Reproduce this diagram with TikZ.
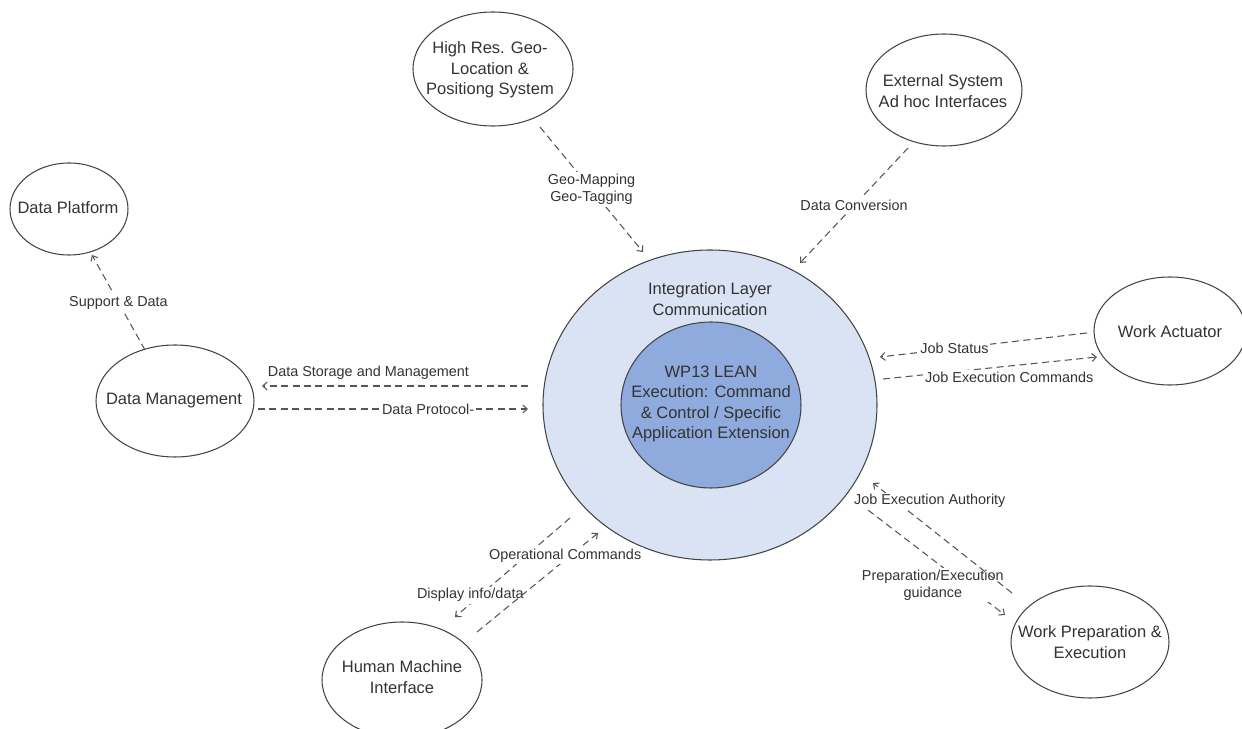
\documentclass[tikz,border=0pt]{standalone}
\usepackage{fontspec}
\setmainfont{Liberation Sans}
\usetikzlibrary{shapes.geometric,arrows.meta,calc}
\definecolor{ink}{HTML}{333333}
\definecolor{edgegray}{HTML}{555555}
\definecolor{rimgray}{HTML}{444444}
\definecolor{ringfill}{HTML}{DAE3F3}
\definecolor{corefill}{HTML}{8FAADC}

\begin{document}
\begin{tikzpicture}[x=0.02cm,y=-0.02cm,
  sz/.style 2 args={minimum width={#1*0.02cm}, minimum height={#2*0.02cm}},
  blob/.style={ellipse, draw=rimgray, line width=0.6pt, fill=white, inner sep=0pt},
  inscr/.style={text=ink, align=center, inner sep=0pt,
    font=\fontsize{9.4pt}{11.6pt}\selectfont},
  flow/.style={draw=edgegray, line width=0.6pt, dash pattern=on 4pt off 2.5pt,
    -{Straight Barb[length=2.5pt,width=4.5pt]}},
  linktext/.style={text=ink, align=center, fill=white, inner sep=1pt,
    font=\fontsize{8.2pt}{9.8pt}\selectfont},
]
\useasboundingbox (0,0) rectangle (1242,729);

% central integration layer with the command & control core
\node[ellipse, draw=rimgray, line width=0.6pt, fill=ringfill, sz={334}{310}] (outer) at (710,405) {};
\node[ellipse, draw=rimgray, line width=0.6pt, fill=corefill, sz={180}{166}] (inner) at (711,405) {};
\node[inscr] (outert) at (710,299) {Integration Layer\\Communication};
\node[inscr] (innert) at (711,404) {WP13 LEAN\\Execution: Command\\\& Control / Specific\\Application Extension};

% surrounding systems
\node[blob, sz={118}{92}]  (dp)  at (69,209)   {};
\node[inscr] (dpt) at (68,208) {Data Platform};
\node[blob, sz={158}{112}] (dm)  at (175,401)  {};
\node[inscr] (dmt) at (174,401) {Data Management};
\node[blob, sz={160}{114}] (geo) at (493,69)   {};
\node[inscr] (geot) at (490,70) {High Res. Geo-\\Location \&\\Positiong System};
\node[blob, sz={156}{112}] (ext) at (944,90)   {};
\node[inscr] (extt) at (943,91) {External System\\Ad hoc Interfaces};
\node[blob, sz={152}{108}] (wa)  at (1170,331) {};
\node[inscr] (wat) at (1170,332) {Work Actuator};
\node[blob, sz={158}{112}] (wp)  at (1090,642) {};
\node[inscr] (wpt) at (1090,642) {Work Preparation \&\\Execution};
\node[blob, sz={160}{116}] (hmi) at (402,680)  {};
\node[inscr] (hmit) at (402,677) {Human Machine\\Interface};

% information flows
\draw[flow] ($(dm)+(-30,-51)$) -- node[linktext] (l1) {Support \& Data} ($(dp)+(23,46)$);
\draw[flow] ($(outer)+(-182,-19)$) -- node[linktext, pos=0.6, yshift=0.26cm] (l2) {Data Storage and Management} ($(dm)+(87,-15)$);
\draw[flow] ($(dm)+(83,8)$) -- node[linktext, pos=0.63] (l3) {Data Protocol-} ($(outer)+(-182,4)$);
\draw[flow] ($(geo)+(47,58)$) -- node[linktext] (l4) {Geo-Mapping\\Geo-Tagging} ($(outer)+(-67,-153)$);
\draw[flow] ($(ext)+(-36,58)$) -- node[linktext] (l5) {Data Conversion} ($(outer)+(90,-142)$);
\draw[flow] ($(wa)+(-83,2)$) -- node[linktext, pos=0.64] (l6) {Job Status} ($(outer)+(170,-48)$);
\draw[flow] ($(outer)+(173,-26)$) -- node[linktext, pos=0.59, yshift=-0.22cm] (l7) {Job Execution Commands} ($(wa)+(-73,26)$);
\draw[flow] ($(outer)+(158,105)$) -- node[linktext, pos=0.714, xshift=-0.66cm] (l8) {Preparation/Execution\\guidance} ($(wp)+(-85,-27)$);
\draw[flow] ($(wp)+(-78,-49)$) -- node[linktext, pos=0.836, xshift=0.68cm] (l9) {Job Execution Authority} ($(outer)+(163,78)$);
\draw[flow] ($(outer)+(-140,113)$) -- node[linktext, pos=0.78, xshift=-0.2cm] (l10) {Display info/data} ($(hmi)+(53,-63)$);
\draw[flow] ($(hmi)+(75,-48)$) -- node[linktext, pos=0.77, xshift=-0.1cm] (l11) {Operational Commands} ($(outer)+(-112,128)$);
\end{tikzpicture}
\end{document}
